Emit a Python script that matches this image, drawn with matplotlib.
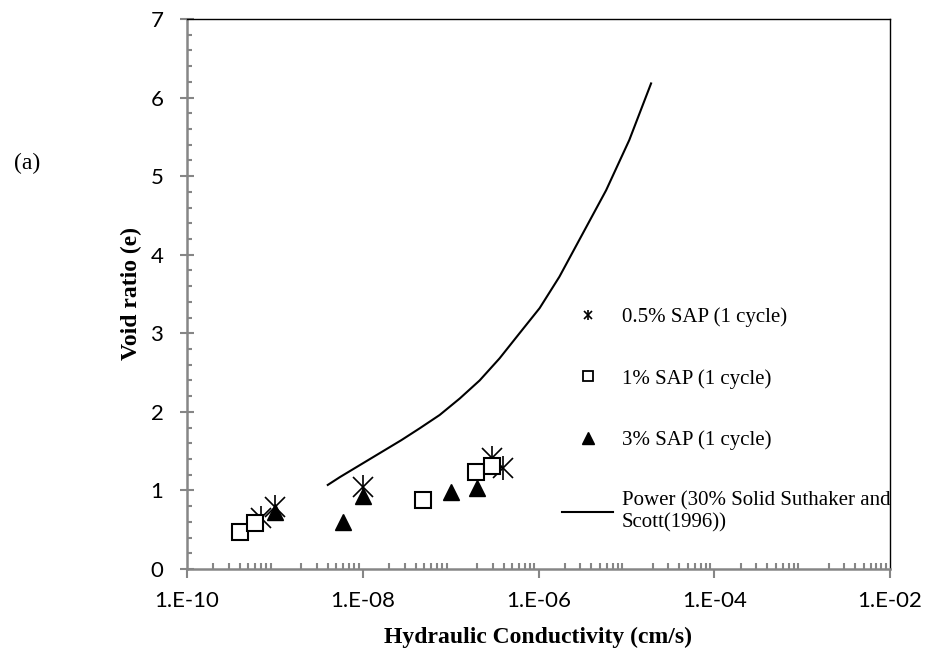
import matplotlib
matplotlib.use("Agg")
from matplotlib import pyplot as plt
from matplotlib.ticker import LogLocator, MultipleLocator, FixedLocator

# data
k_05 = [6.9e-10, 1.0e-9, 1.0e-8, 2.95e-7, 3.9e-7]
e_05 = [0.645, 0.785, 1.04, 1.41, 1.28]

k_1 = [4.0e-10, 6.0e-10, 4.9e-8, 1.95e-7, 2.95e-7]
e_1 = [0.475, 0.59, 0.88, 1.23, 1.31]

k_3 = [1.0e-9, 6.0e-9, 1.0e-8, 1.0e-7, 2.0e-7]
e_3 = [0.72, 0.60, 0.93, 0.98, 1.03]

k_power = [4.0e-9, 5.5e-9, 2.75e-8, 4.44e-8, 7.5e-8, 1.27e-7, 2.14e-7, 3.6e-7,
           6.08e-7, 1.03e-6, 1.73e-6, 3.19e-6, 5.88e-6, 1.08e-5, 1.91e-5]
e_power = [1.07, 1.17, 1.64, 1.79, 1.96, 2.17, 2.40, 2.68,
           3.00, 3.32, 3.72, 4.27, 4.82, 5.46, 6.18]

x_ticks = [1e-10, 1e-8, 1e-6, 1e-4, 1e-2]
x_ticklabels = ["1.E-10", "1.E-08", "1.E-06", "1.E-04", "1.E-02"]

serif = "Liberation Serif"
sans = "Lato"
grey = "#868686"

fig = plt.figure(figsize=(9.26, 6.54), dpi=100)
ax = fig.add_axes([187/926, 1-569/654, 703/926, 550/654])

ax.plot(k_power, e_power, color="black", lw=1.5, zorder=2)
# star = x plus vertical bar, like the excel marker
ax.plot(k_05, e_05, linestyle="none", marker="x", markersize=15,
        markeredgecolor="black", markeredgewidth=1.2, zorder=3)
ax.plot(k_05, e_05, linestyle="none", marker="|", markersize=17,
        markeredgecolor="black", markeredgewidth=1.2, zorder=3)
ax.plot(k_1, e_1, linestyle="none", marker="s", markersize=12,
        markerfacecolor="white", markeredgecolor="black", markeredgewidth=1.5, zorder=3)
ax.plot(k_3, e_3, linestyle="none", marker="^", markersize=11,
        color="black", zorder=4)

ax.set_xscale("log")
ax.set_xlim(1e-10, 1e-2)
ax.set_ylim(0, 7)

ax.xaxis.set_major_locator(FixedLocator(x_ticks))
ax.set_xticklabels(x_ticklabels)
ax.xaxis.set_minor_locator(LogLocator(base=10, subs=range(2, 10), numticks=50))
ax.yaxis.set_major_locator(MultipleLocator(1))
ax.yaxis.set_minor_locator(MultipleLocator(0.2))

ax.tick_params(axis="x", which="major", direction="out", length=6.5, width=1.5,
               color=grey, pad=9, labelsize=16)
ax.tick_params(axis="x", which="minor", direction="in", length=4, width=1.5, color=grey)
ax.tick_params(axis="y", which="major", direction="inout", length=10, width=1.5,
               color=grey, pad=12, labelsize=16)
ax.tick_params(axis="y", which="minor", direction="in", length=3.6, width=1.5, color=grey)
for lab in ax.get_xticklabels() + ax.get_yticklabels():
    lab.set_fontfamily(sans)

ax.spines["left"].set_color(grey)
ax.spines["bottom"].set_color(grey)
ax.spines["left"].set_linewidth(1.8)
ax.spines["bottom"].set_linewidth(1.8)
ax.spines["top"].set_linewidth(1.0)
ax.spines["right"].set_linewidth(1.0)

ax.set_xlabel("Hydraulic Conductivity (cm/s)", fontfamily=serif, fontweight="bold", fontsize=17)
ax.set_ylabel("Void ratio (e)", fontfamily=serif, fontweight="bold", fontsize=17)
ax.xaxis.set_label_coords(0.5, -0.105)
ax.yaxis.set_label_coords(-0.064, 0.5)

h05a = plt.Line2D([], [], linestyle="none", marker="x", markersize=6,
                  markeredgecolor="black", markeredgewidth=1.2)
h05b = plt.Line2D([], [], linestyle="none", marker="|", markersize=7,
                  markeredgecolor="black", markeredgewidth=1.2)
h1 = plt.Line2D([], [], linestyle="none", marker="s", markersize=7,
                markerfacecolor="white", markeredgecolor="black", markeredgewidth=1.3)
h3 = plt.Line2D([], [], linestyle="none", marker="^", markersize=8, color="black")
hp = plt.Line2D([], [], color="black", lw=1.5)
ax.legend([(h05a, h05b), h1, h3, hp],
          ["0.5% SAP (1 cycle)", "1% SAP (1 cycle)", "3% SAP (1 cycle)",
           "Power (30% Solid Suthaker and\nScott(1996))"],
          loc="upper left", bbox_to_anchor=(552/926, 1-297/654),
          bbox_transform=fig.transFigure, frameon=False, borderpad=0,
          handlelength=2.45, handletextpad=0.4, labelspacing=2.0,
          prop={"family": serif, "size": 15})

fig.text(27/926, 1-163/654, "(a)", fontfamily=serif, fontsize=17,
         ha="center", va="center")

fig.savefig("out.png", dpi=100)
